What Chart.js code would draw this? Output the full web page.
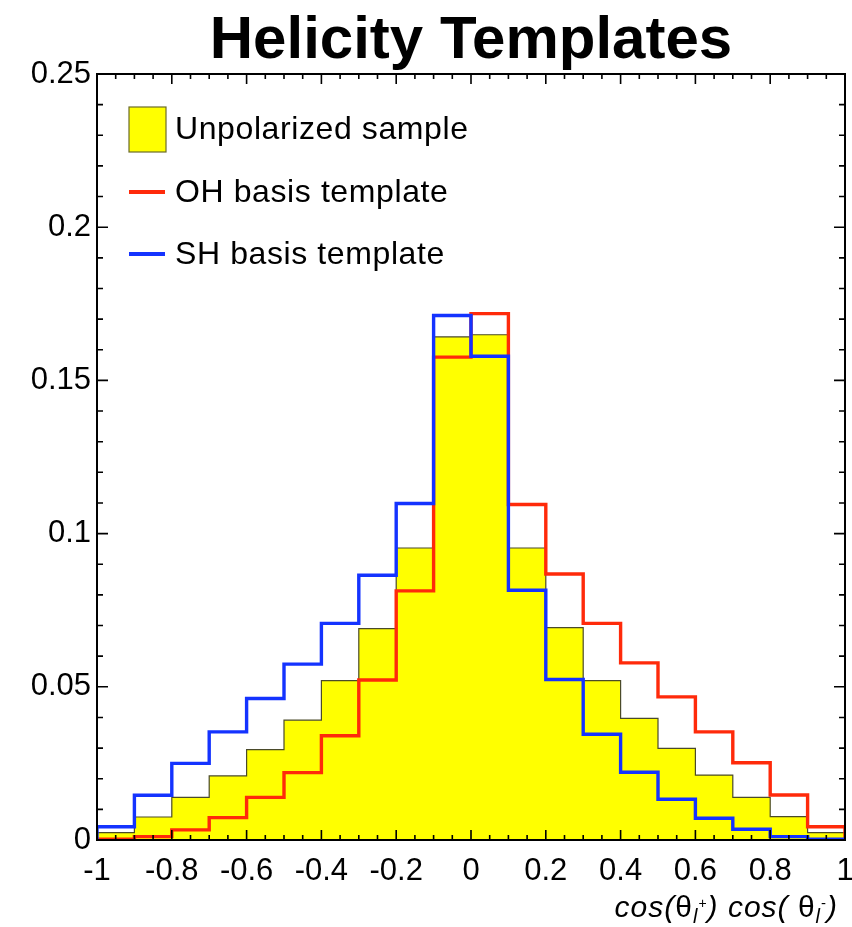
<!DOCTYPE html>
<html>
<head>
<meta charset="utf-8">
<title>Helicity Templates</title>
<script src="https://cdn.jsdelivr.net/npm/chart.js@4.4.1/dist/chart.umd.min.js"></script>
<style>
  html, body { margin: 0; padding: 0; background: #fff; }
  #wrap { width: 852px; height: 927px; }
</style>
</head>
<body>
<div id="wrap"><canvas id="helicity"></canvas></div>
<script>
// bin edges in cos(theta_l+) cos(theta_l-), 20 bins of width 0.1
const binEdges = [-1.0, -0.9, -0.8, -0.7, -0.6, -0.5, -0.4, -0.3, -0.2, -0.1, 0.0,
                  0.1, 0.2, 0.3, 0.4, 0.5, 0.6, 0.7, 0.8, 0.9, 1.0];

// normalised bin contents
const unpolarized = [0.0024, 0.0075, 0.0139, 0.0209, 0.0295, 0.0391, 0.0520, 0.0690, 0.0953, 0.1642,
                     0.1649, 0.0953, 0.0693, 0.0520, 0.0397, 0.0299, 0.0212, 0.0139, 0.0076, 0.0024];
const ohTemplate  = [0.0003, 0.0011, 0.0033, 0.0073, 0.0139, 0.0220, 0.0340, 0.0522, 0.0813, 0.1576,
                     0.1718, 0.1095, 0.0868, 0.0707, 0.0578, 0.0467, 0.0353, 0.0252, 0.0147, 0.0043];
const shTemplate  = [0.0043, 0.0146, 0.0250, 0.0353, 0.0462, 0.0574, 0.0707, 0.0864, 0.1098, 0.1712,
                     0.1579, 0.0815, 0.0524, 0.0345, 0.0221, 0.0133, 0.0071, 0.0035, 0.0011, 0.0003];

const xTicks = [-1, -0.8, -0.6, -0.4, -0.2, 0, 0.2, 0.4, 0.6, 0.8, 1];
const yTicks = [0, 0.05, 0.1, 0.15, 0.2, 0.25];

const legendItems = [
  { label: 'Unpolarized sample', kind: 'box', color: '#ffff00' },
  { label: 'OH basis template', kind: 'line', color: '#ff2a0a' },
  { label: 'SH basis template', kind: 'line', color: '#1433ff' }
];

const FONT = '"Liberation Sans", Arial, Helvetica, sans-serif';
Chart.defaults.font.family = FONT;
Chart.defaults.color = '#000';

// turn bin contents into step outline points, closed down to zero at both ends
function histPoints(values) {
  const last = binEdges.length - 1;
  const pts = [{ x: binEdges[0], y: 0 }];
  values.forEach((v, i) => pts.push({ x: binEdges[i], y: v }));
  pts.push({ x: binEdges[last], y: values[values.length - 1] });
  pts.push({ x: binEdges[last], y: 0 });
  return pts;
}

// frame with inward major/minor ticks on all four sides
const frameTicks = {
  id: 'frameTicks',
  afterDatasetsDraw(chart) {
    const { ctx, chartArea: a, scales: { x, y } } = chart;
    ctx.save();
    ctx.strokeStyle = '#000';
    ctx.lineWidth = 2;
    ctx.strokeRect(a.left, a.top, a.right - a.left, a.bottom - a.top);
    ctx.lineWidth = 1.6;
    ctx.beginPath();
    for (let i = 0; i <= 40; i++) {
      const px = x.getPixelForValue(-1 + i * 0.05);
      const len = i % 4 === 0 ? 10 : 5;
      ctx.moveTo(px, a.bottom); ctx.lineTo(px, a.bottom - len);
      ctx.moveTo(px, a.top); ctx.lineTo(px, a.top + len);
    }
    for (let i = 0; i <= 25; i++) {
      const py = y.getPixelForValue(i * 0.01);
      const len = i % 5 === 0 ? 11 : 6;
      ctx.moveTo(a.left, py); ctx.lineTo(a.left + len, py);
      ctx.moveTo(a.right, py); ctx.lineTo(a.right - len, py);
    }
    ctx.stroke();
    ctx.restore();
  }
};

// legend in the upper left of the frame
const boxLegend = {
  id: 'boxLegend',
  afterDraw(chart) {
    const { ctx, chartArea: a } = chart;
    const x0 = a.left + 32;
    const rows = [129, 192, 254];
    ctx.save();
    ctx.font = '32px ' + FONT;
    ctx.letterSpacing = '0.6px';
    ctx.textBaseline = 'middle';
    legendItems.forEach((item, i) => {
      const cy = rows[i];
      if (item.kind === 'box') {
        ctx.fillStyle = item.color;
        ctx.fillRect(x0, cy - 22, 37, 45);
        ctx.strokeStyle = '#6b6b2a';
        ctx.lineWidth = 1.2;
        ctx.strokeRect(x0, cy - 22, 37, 45);
      } else {
        ctx.strokeStyle = item.color;
        ctx.lineWidth = 4;
        ctx.beginPath();
        ctx.moveTo(x0, cy);
        ctx.lineTo(x0 + 36, cy);
        ctx.stroke();
      }
      ctx.fillStyle = '#000';
      ctx.fillText(item.label, x0 + 46, cy + 1);
    });
    ctx.restore();
  }
};

// x axis title with sub/superscripts, right aligned under the frame
const axisTitle = {
  id: 'axisTitle',
  afterDraw(chart) {
    const { ctx, chartArea: a } = chart;
    const runs = [
      { t: 'cos(', f: 'italic 30px', dy: 0 },
      { t: '\u03b8', f: '30px', dy: 0 },
      { t: 'l', f: 'italic 20px', dy: 6 },
      { t: '+', f: '14px', dy: -9 },
      { t: ') cos( ', f: 'italic 30px', dy: 0 },
      { t: '\u03b8', f: '30px', dy: 0 },
      { t: 'l', f: 'italic 20px', dy: 6 },
      { t: '-', f: '15px', dy: -9 },
      { t: ')', f: 'italic 30px', dy: 0 }
    ];
    ctx.save();
    ctx.fillStyle = '#000';
    ctx.textBaseline = 'alphabetic';
    ctx.letterSpacing = '1px';
    let total = 0;
    runs.forEach(r => { ctx.font = r.f + ' ' + FONT; r.w = ctx.measureText(r.t).width; total += r.w; });
    let cx = a.right - 7 - total;
    const base = 917;
    runs.forEach(r => {
      ctx.font = r.f + ' ' + FONT;
      ctx.fillText(r.t, cx, base + r.dy);
      cx += r.w;
    });
    ctx.restore();
  }
};

new Chart(document.getElementById('helicity'), {
  type: 'line',
  data: {
    datasets: [
      {
        label: 'SH basis template',
        data: histPoints(shTemplate),
        borderColor: '#1433ff',
        borderWidth: 3.4,
        stepped: true,
        fill: false,
        order: 0
      },
      {
        label: 'OH basis template',
        data: histPoints(ohTemplate),
        borderColor: '#ff2a0a',
        borderWidth: 3.4,
        stepped: true,
        fill: false,
        order: 1
      },
      {
        label: 'Unpolarized sample',
        data: histPoints(unpolarized),
        borderColor: '#4a4a2a',
        backgroundColor: '#ffff00',
        borderWidth: 1.2,
        stepped: true,
        fill: 'origin',
        order: 2
      }
    ]
  },
  options: {
    responsive: true,
    maintainAspectRatio: false,
    animation: false,
    elements: { point: { radius: 0, hoverRadius: 0 }, line: { tension: 0 } },
    layout: { padding: { top: 0, right: 7, bottom: 0, left: 0 } },
    scales: {
      x: {
        type: 'linear',
        min: -1,
        max: 1,
        grid: { display: false, drawTicks: false },
        border: { display: false },
        afterBuildTicks: s => { s.ticks = xTicks.map(v => ({ value: v })); },
        afterFit: s => { s.height = 87; s.paddingLeft = 0; s.paddingRight = 0; },
        ticks: {
          padding: 13,
          maxRotation: 0,
          autoSkip: false,
          font: { size: 31 },
          callback: v => String(Math.round(v * 100) / 100)
        }
      },
      y: {
        min: 0,
        max: 0.25,
        grid: { display: false, drawTicks: false },
        border: { display: false },
        afterBuildTicks: s => { s.ticks = yTicks.map(v => ({ value: v })); },
        afterFit: s => { s.width = 97; s.paddingTop = 0; s.paddingBottom = 0; },
        ticks: {
          padding: 6,
          autoSkip: false,
          font: { size: 31 },
          callback: v => String(Math.round(v * 100) / 100)
        }
      }
    },
    plugins: {
      legend: { display: false },
      tooltip: { enabled: false },
      title: {
        display: true,
        text: 'Helicity Templates',
        fullSize: false,
        color: '#000',
        font: { size: 60, weight: 'bold', lineHeight: 1.1 },
        padding: { top: 8, bottom: 0 }
      }
    }
  },
  plugins: [frameTicks, boxLegend, axisTitle]
});
</script>
</body>
</html>
